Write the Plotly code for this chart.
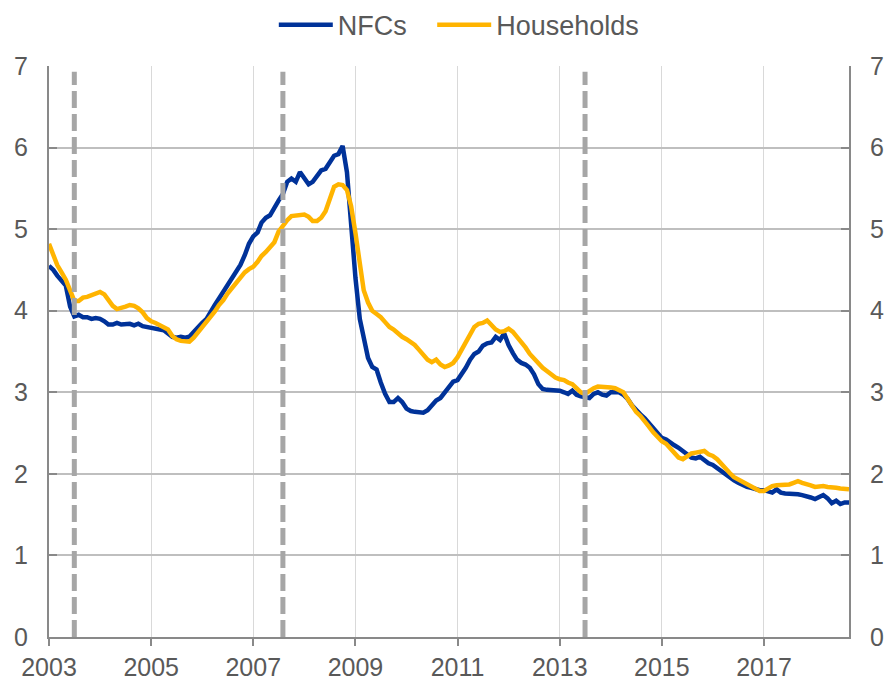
import pandas as pd
import plotly.graph_objects as go

start_month = "2003-01-01"

nfcs = [
    4.55, 4.50, 4.43, 4.37, 4.31, 4.05, 3.93, 3.95, 3.92, 3.92, 3.90, 3.91,
    3.90, 3.87, 3.83, 3.83, 3.85, 3.83, 3.84, 3.84, 3.82, 3.84, 3.81, 3.80,
    3.80, 3.79, 3.78, 3.76, 3.72, 3.68, 3.67, 3.68, 3.67, 3.68, 3.74, 3.80,
    3.85, 3.90, 3.97, 4.07, 4.15, 4.23, 4.30, 4.38, 4.48, 4.56, 4.68, 4.82,
    4.91, 4.96, 5.08, 5.14, 5.17, 5.27, 5.35, 5.43, 5.58, 5.62, 5.58, 5.70,
    5.62, 5.55, 5.58, 5.65, 5.72, 5.74, 5.82, 5.90, 5.92, 6.02, 5.70, 5.00,
    4.40, 3.90, 3.68, 3.42, 3.31, 3.28, 3.12, 2.98, 2.88, 2.88, 2.93, 2.88,
    2.80, 2.77, 2.76, 2.75, 2.75, 2.78, 2.84, 2.90, 2.93, 3.00, 3.07, 3.13,
    3.15, 3.22, 3.30, 3.40, 3.47, 3.50, 3.57, 3.60, 3.61, 3.68, 3.64, 3.72,
    3.58, 3.48, 3.40, 3.36, 3.34, 3.30, 3.22, 3.10, 3.04, 3.03, 3.03, 3.02,
    3.02, 3.00, 2.98, 3.02, 2.97, 2.95, 2.94, 2.93, 2.98, 3.00, 2.97, 2.96,
    3.00, 3.00, 3.00, 2.97, 2.92, 2.84, 2.78, 2.73, 2.68, 2.62, 2.57, 2.49,
    2.44, 2.42, 2.38, 2.35, 2.32, 2.27, 2.24, 2.20, 2.19, 2.21, 2.16, 2.13,
    2.11, 2.07, 2.04, 1.99, 1.95, 1.92, 1.89, 1.86, 1.84, 1.83, 1.81, 1.80,
    1.80, 1.79, 1.77, 1.81, 1.77, 1.76, 1.76, 1.75, 1.75, 1.74, 1.73, 1.71,
    1.69, 1.72, 1.74, 1.70, 1.64, 1.67, 1.63, 1.65, 1.65,
]

households = [
    4.82, 4.68, 4.56, 4.47, 4.38, 4.25, 4.12, 4.12, 4.16, 4.17, 4.19, 4.22,
    4.23, 4.20, 4.14, 4.06, 4.02, 4.03, 4.05, 4.07, 4.06, 4.03, 3.98, 3.91,
    3.87, 3.85, 3.82, 3.79, 3.77, 3.69, 3.65, 3.63, 3.62, 3.62, 3.67, 3.73,
    3.80, 3.86, 3.92, 3.99, 4.07, 4.13, 4.21, 4.28, 4.35, 4.42, 4.47, 4.51,
    4.54, 4.60, 4.67, 4.72, 4.77, 4.84, 4.97, 5.05, 5.11, 5.16, 5.17, 5.18,
    5.18, 5.15, 5.10, 5.10, 5.14, 5.22, 5.38, 5.52, 5.55, 5.54, 5.48, 5.28,
    4.95, 4.58, 4.25, 4.10, 4.00, 3.96, 3.92, 3.86, 3.80, 3.77, 3.72, 3.68,
    3.65, 3.62, 3.58, 3.52, 3.46, 3.40, 3.37, 3.40, 3.34, 3.31, 3.33, 3.36,
    3.43, 3.53, 3.63, 3.72, 3.80, 3.84, 3.85, 3.88, 3.82, 3.77, 3.74, 3.75,
    3.78, 3.74, 3.68, 3.62, 3.55, 3.47, 3.41, 3.36, 3.30, 3.26, 3.22, 3.18,
    3.16, 3.15, 3.12, 3.10, 3.05, 3.00, 2.98, 3.02, 3.05, 3.07, 3.07, 3.07,
    3.06, 3.05, 3.02, 3.00, 2.92, 2.83, 2.76, 2.71, 2.65, 2.58, 2.51, 2.45,
    2.40, 2.37, 2.32, 2.26, 2.20, 2.18, 2.21, 2.25, 2.26, 2.27, 2.28, 2.24,
    2.22, 2.18, 2.12, 2.07, 2.01, 1.96, 1.93, 1.90, 1.87, 1.84, 1.81, 1.79,
    1.79, 1.82, 1.85, 1.86, 1.86, 1.87, 1.87, 1.89, 1.91, 1.89, 1.88, 1.86,
    1.84, 1.85, 1.85, 1.84, 1.84, 1.83, 1.82, 1.82, 1.81,
]

series_names = ["NFCs", "Households"]
event_dates = ["2003-07-01", "2007-08-01", "2013-07-01"]
year_ticks = ["2003", "2005", "2007", "2009", "2011", "2013", "2015", "2017"]
y_ticks = [0, 1, 2, 3, 4, 5, 6, 7]

dates = pd.date_range(start_month, periods=len(nfcs), freq="MS")

FONT = "Liberation Sans, Arial, sans-serif"
TXT = "#595959"
AX = "#898989"
FS = 25

fig = go.Figure()
fig.add_trace(go.Scatter(x=dates, y=nfcs, name=series_names[0] + "\u00a0\u00a0\u2009",
                         mode="lines", line=dict(color="#003299", width=4.5)))
fig.add_trace(go.Scatter(x=dates, y=households, name=series_names[1],
                         mode="lines", line=dict(color="#FFB400", width=4.5)))
fig.add_trace(go.Scatter(x=dates, y=nfcs, yaxis="y2", mode="lines",
                         line=dict(color="rgba(0,0,0,0)", width=0),
                         showlegend=False, hoverinfo="skip"))

for d in event_dates:
    fig.add_shape(type="line", xref="x", yref="y", x0=d, x1=d, y0=0, y1=6.93,
                  line=dict(color="#A6A6A6", width=5, dash="17px,6px"),
                  layer="above")

fig.update_layout(
    width=889, height=682,
    margin=dict(l=49, r=40, t=66, b=45),
    paper_bgcolor="white", plot_bgcolor="white",
    font=dict(family=FONT, size=FS, color=TXT),
    showlegend=True,
    legend=dict(orientation="h", x=0.281, xanchor="left", y=0.963, yanchor="middle",
                yref="container", font=dict(size=27, color=TXT),
                itemwidth=54, tracegroupgap=0, bgcolor="rgba(0,0,0,0)"),
    xaxis=dict(
        type="date",
        range=[dates[0], dates[-1]],
        tickvals=[pd.Timestamp(y + "-01-01") for y in year_ticks],
        ticktext=year_ticks,
        ticks="outside", ticklen=7, tickwidth=2, tickcolor=AX,
        showline=True, linecolor=AX, linewidth=2,
        showgrid=True, gridcolor="#D9D9D9", gridwidth=1,
        zeroline=False, tickfont=dict(size=FS, color=TXT),
        ticklabelstandoff=0, automargin=False,
    ),
    yaxis=dict(
        range=[0, 7], tickvals=y_ticks,
        ticks="inside", ticklen=8, tickwidth=2, tickcolor=AX,
        showline=True, linecolor=AX, linewidth=2, mirror=False,
        showgrid=True, gridcolor="#BFBFBF", gridwidth=2,
        zeroline=False, tickfont=dict(size=FS, color=TXT),
        ticklabelstandoff=14, automargin=False,
    ),
    yaxis2=dict(
        range=[0, 7], tickvals=y_ticks, overlaying="y", side="right",
        ticks="inside", ticklen=8, tickwidth=2, tickcolor=AX,
        showline=True, linecolor=AX, linewidth=2,
        showgrid=False, zeroline=False, tickfont=dict(size=FS, color=TXT),
        ticklabelstandoff=14, automargin=False,
    ),
)

fig.write_html("out.html", config={"displayModeBar": False},
               post_script="document.body.style.margin='0';document.body.style.padding='0';")
